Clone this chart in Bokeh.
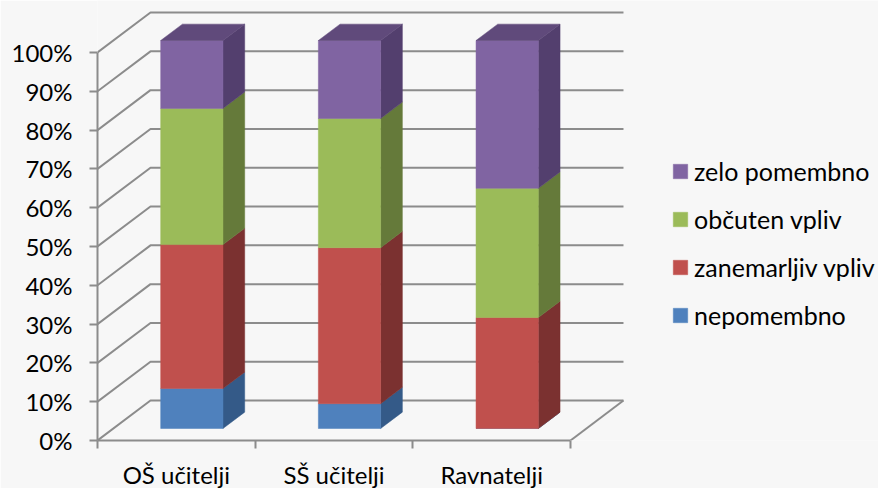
from bokeh.plotting import figure
from bokeh.models import FixedTicker, Legend, LegendItem, Range1d
from bokeh.embed import file_html
from bokeh.resources import INLINE

categories = ["OŠ učitelji", "SŠ učitelji", "Ravnatelji"]
nepomembno = [10.3, 6.4, 0.0]
zanemarljiv = [37.1, 40.2, 28.6]
obcuten = [35.1, 33.3, 33.3]
zelo = [17.5, 20.1, 38.1]
series_names = ["nepomembno", "zanemarljiv vpliv", "občuten vpliv", "zelo pomembno"]
y_ticks = list(range(0, 101, 10))

BG = "#f7f7f7"
GRID = "#8c8c8c"
FONT = "Lato"
fronts = ["#4f81bd", "#c0504d", "#9bbb59", "#8064a2"]
sides = ["#345a88", "#7b3130", "#657a3a", "#533f6e"]
top_color = "#604a7b"

# 3D projection constants in data units
WALL_DX, WALL_DY = 0.336, 10.3
BAR_OFF = 0.30
BAR_DEPTH = 0.41
BAR_W = 0.395

p = figure(width=878, height=488, frame_width=781, frame_height=440,
           output_backend="svg", toolbar_location=None,
           x_range=Range1d(0, 781 / 157.67), y_range=Range1d(0, 440 / 3.88),
           min_border_left=97, min_border_right=0, min_border_top=0, min_border_bottom=48,
           background_fill_color=BG, border_fill_color=BG, outline_line_color=None)
p.grid.visible = False

# walls and floor
for t in y_ticks:
    p.line([0, WALL_DX, 3 + WALL_DX], [t, t + WALL_DY, t + WALL_DY], line_color=GRID, line_width=2)
p.line([3, 3 + WALL_DX], [0, WALL_DY], line_color=GRID, line_width=2)

# bars
legend_items = []
cum = [0.0, 0.0, 0.0]
ox, oy = BAR_OFF * WALL_DX, BAR_OFF * WALL_DY
dx, dy = BAR_DEPTH * WALL_DX, BAR_DEPTH * WALL_DY
for k, vals in enumerate([nepomembno, zanemarljiv, obcuten, zelo]):
    left = [i + 0.5 + ox - 0.2 for i in range(3)]
    right = [l + BAR_W for l in left]
    bottom = [c + oy for c in cum]
    top = [c + v + oy for c, v in zip(cum, vals)]
    xs = [[r, r + dx, r + dx, r] for r in right]
    ys = [[b, b + dy, t + dy, t] for b, t in zip(bottom, top)]
    p.patches(xs, ys, fill_color=sides[k], line_color=sides[k], line_width=0.5)
    q = p.quad(left=left, right=right, bottom=bottom, top=top,
               fill_color=fronts[k], line_color=fronts[k], line_width=0.5)
    legend_items.append(LegendItem(label=series_names[k], renderers=[q]))
    cum = [c + v for c, v in zip(cum, vals)]

xs = [[l, l + dx, l + BAR_W + dx, l + BAR_W] for l in left]
ys = [[t, t + dy, t + dy, t] for t in top]
p.patches(xs, ys, fill_color=top_color, line_color=top_color, line_width=0.5)

# axes
yax = p.yaxis[0]
yax.ticker = FixedTicker(ticks=y_ticks)
yax.major_label_overrides = {t: f"{t}%" for t in y_ticks}
yax.bounds = (0, 100)
xax = p.xaxis[0]
xax.ticker = FixedTicker(ticks=[0.5, 1.5, 2.5], minor_ticks=[0, 1, 2, 3])
xax.major_label_overrides = {i + 0.5: c for i, c in enumerate(categories)}
xax.bounds = (0, 3)
for ax in (xax, yax):
    ax.axis_line_color = GRID
    ax.axis_line_width = 2
    ax.major_label_text_font = FONT
    ax.major_label_text_font_size = "24px"
    ax.major_label_text_color = "#000000"
    ax.minor_tick_line_color = GRID
    ax.minor_tick_line_width = 2
    ax.minor_tick_in = 0
xax.major_tick_line_color = None
xax.major_tick_in = 0
xax.major_tick_out = 0
xax.minor_tick_out = 8
xax.major_label_standoff = 11
yax.major_tick_line_color = GRID
yax.major_tick_line_width = 2
yax.major_tick_in = 0
yax.major_tick_out = 8
yax.minor_tick_out = 0
yax.major_label_standoff = 17

legend = Legend(items=legend_items[::-1], location=(574, 110), orientation="vertical",
                padding=0, margin=0, spacing=18, glyph_width=18, glyph_height=18,
                label_height=15, label_standoff=5, border_line_color=None,
                background_fill_alpha=0, label_text_font=FONT,
                label_text_font_size="25px", label_text_color="#000000")
p.add_layout(legend, "center")

open("out.html", "w").write(file_html(p, INLINE))
